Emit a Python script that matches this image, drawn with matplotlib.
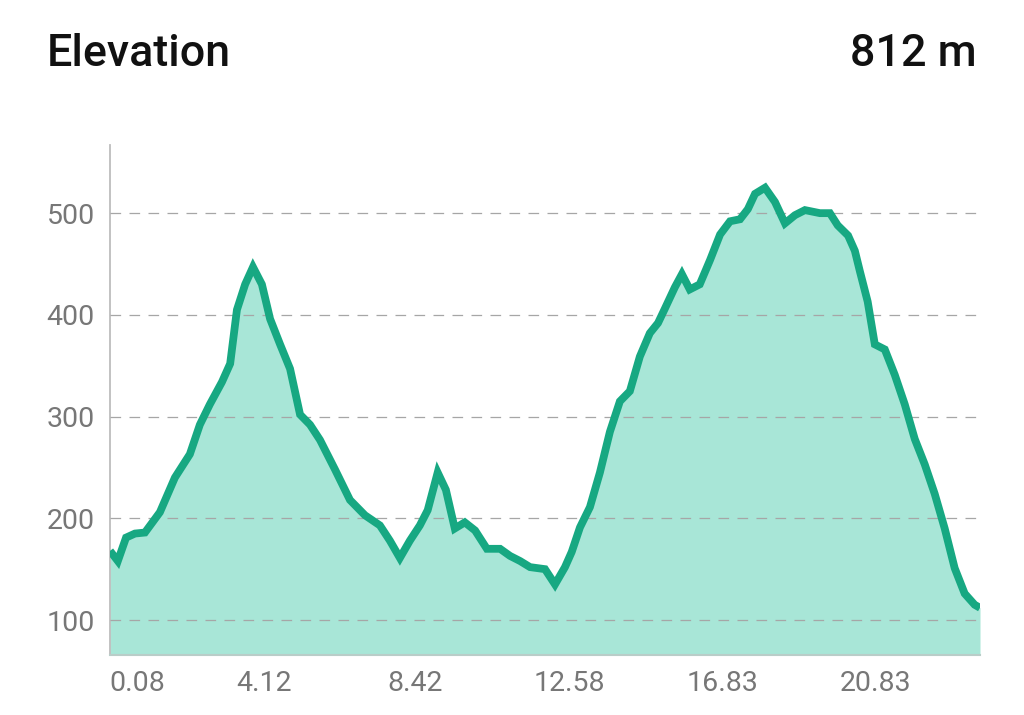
import matplotlib
matplotlib.use("Agg")
import matplotlib.pyplot as plt

# distance along route (km, position on the axis) and elevation (m)
distance_km = [0.00, 0.22, 0.45, 0.70, 0.98, 1.40, 1.82, 2.24, 2.52, 2.80,
               3.14, 3.37, 3.56, 3.79, 4.01, 4.26, 4.49, 4.77, 5.05, 5.33,
               5.61, 5.89, 6.31, 6.73, 7.15, 7.57, 7.85, 8.13, 8.41, 8.69,
               8.91, 9.19, 9.42, 9.67, 9.95, 10.24, 10.57, 10.94, 11.22, 11.50,
               11.78, 12.20, 12.48, 12.76, 12.95, 13.18, 13.46, 13.74, 14.02, 14.30,
               14.58, 14.86, 15.14, 15.37, 15.56, 15.84, 16.04, 16.26, 16.54, 16.83,
               17.11, 17.39, 17.67, 17.89, 18.09, 18.37, 18.65, 18.93, 19.21, 19.49,
               19.91, 20.19, 20.41, 20.70, 20.89, 21.03, 21.25, 21.45, 21.73, 22.01,
               22.29, 22.57, 22.85, 23.13, 23.41, 23.69, 23.97, 24.25, 24.40]
elevation_m = [168, 158, 181, 185, 186, 206, 240, 263, 292, 312,
               334, 352, 405, 430, 447, 430, 396, 371, 347, 302,
               292, 277, 248, 218, 203, 193, 178, 161, 178, 193,
               208, 245, 228, 190, 196, 188, 170, 170, 163, 158,
               152, 150, 135, 152, 167, 191, 211, 245, 285, 315,
               325, 359, 382, 392, 406, 427, 440, 425, 430, 454,
               479, 492, 494, 504, 519, 525, 511, 490, 498, 503,
               500, 500, 488, 478, 463, 443, 413, 371, 366, 341,
               312, 278, 253, 224, 190, 151, 126, 115, 112]

tick_positions = [0.76, 4.32, 8.55, 12.88, 17.17, 21.46]
tick_labels = ["0.08", "4.12", "8.42", "12.58", "16.83", "20.83"]
y_ticks = [100, 200, 300, 400, 500]

title_text = "Elevation"
total_text = "812 m"

plt.rcParams['font.family'] = ['Roboto', 'DejaVu Sans']

fig = plt.figure(figsize=(10.24, 7.15), dpi=100)
ax = fig.add_axes([110/1024, 60/715, 870/1024, 510/715])

line_color = "#17a882"
fill_color = "#a8e6d7"

ax.fill_between(distance_km, elevation_m, 0, color=fill_color, lw=0, zorder=1)
ax.plot(distance_km, elevation_m, color=line_color, lw=5.6, zorder=3,
        solid_joinstyle='miter', solid_capstyle='butt')

ax.set_xlim(0, 24.40)
ax.set_ylim(65.6, 567)

ax.set_yticks(y_ticks)
ax.set_xticks(tick_positions)
ax.set_xticklabels(tick_labels)
ax.tick_params(axis='both', length=0, labelsize=20.5, labelcolor="#777777")
ax.tick_params(axis='y', pad=11)
ax.tick_params(axis='x', pad=11)

ax.yaxis.grid(True, linestyle=(0, (8.5, 6.7)), color="#a6a6a6", lw=0.9, zorder=2)
ax.set_axisbelow(False)
ax.xaxis.grid(False)

for s in ['top', 'right']:
    ax.spines[s].set_visible(False)
ax.spines['left'].set_color("#bdbdbd")
ax.spines['left'].set_linewidth(1.3)
ax.spines['bottom'].set_color("#b9cdc8")
ax.spines['bottom'].set_linewidth(1.5)

fig.text(47/1024, 1 - 66/715, title_text, fontsize=32.3, fontweight='medium',
         color="#111111", ha='left', va='baseline')
fig.text(977/1024, 1 - 66/715, total_text, fontsize=32.3, fontweight='medium',
         color="#111111", ha='right', va='baseline')

fig.savefig("out.png", dpi=100, facecolor="white")
